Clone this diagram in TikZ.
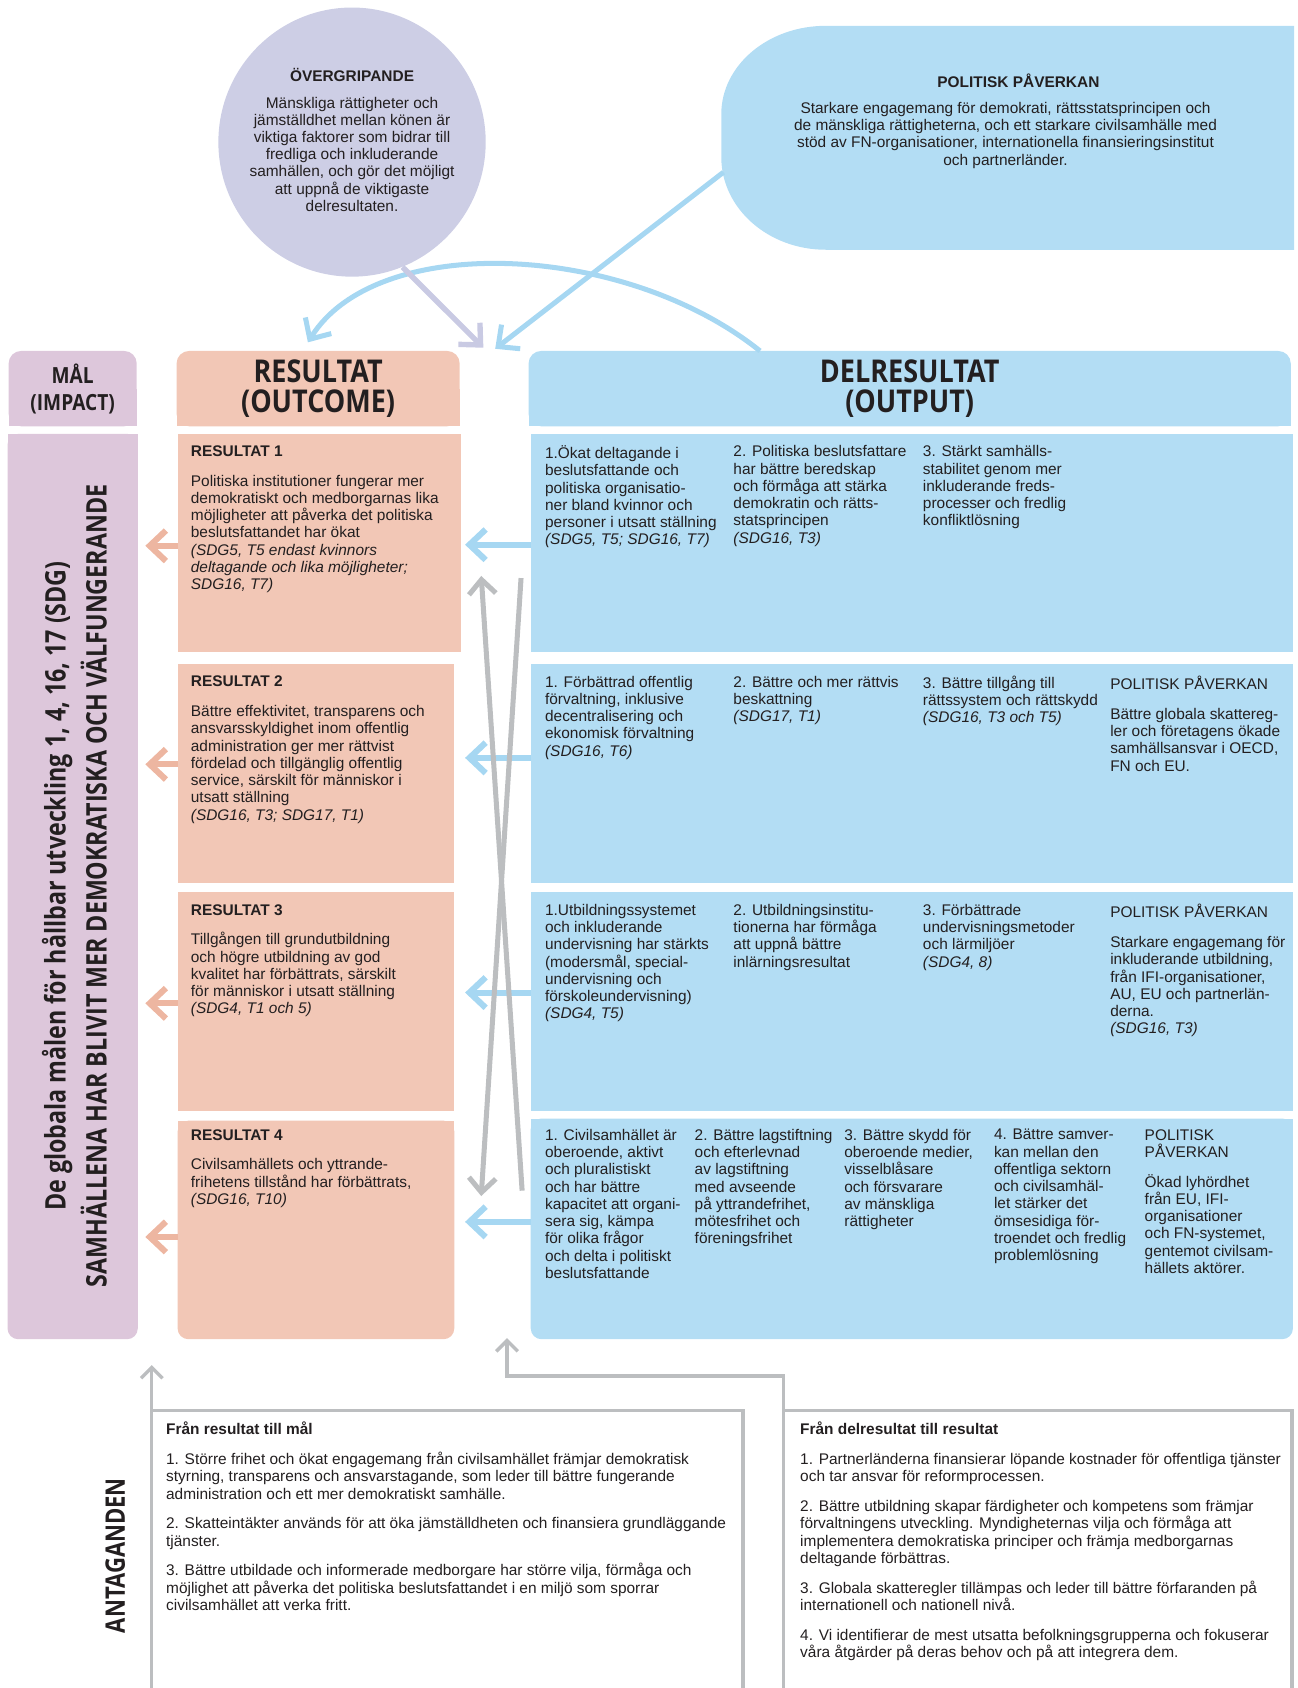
\documentclass[tikz,border=0pt]{standalone}
\usepackage{fontspec}
\setmainfont{Liberation Sans}
\newfontfamily\headfont{Open Sans}[FakeStretch=0.86]
\newfontfamily\sidefont{Open Sans}[FakeStretch=0.82]
\usetikzlibrary{arrows.meta,positioning,fit,shapes.geometric}
\definecolor{malpink}{HTML}{DDC7DB}
\definecolor{salmon}{HTML}{F2C7B6}
\definecolor{skyblue}{HTML}{B3DDF4}
\definecolor{lavender}{HTML}{CDCEE5}
\definecolor{arrblue}{HTML}{A6D7F2}
\definecolor{arrsalmon}{HTML}{EDB6A1}
\definecolor{arrlav}{HTML}{C9CAE3}
\definecolor{greyline}{HTML}{BCBEC0}
\definecolor{ink}{HTML}{231F20}
\tikzset{
  boxfill/.style={inner sep=0pt, outer sep=0pt},
  malbox/.style={boxfill, fill=malpink},
  resbox/.style={boxfill, fill=salmon},
  delbox/.style={boxfill, fill=skyblue},
  txt/.style={anchor=north west, inner sep=0pt, align=left, text=ink,
    font=\fontsize{8.6}{9.6}\selectfont, execute at begin node=\rule{0pt}{9.4pt}},
  ctxt/.style={txt, anchor=north, align=center},
  head/.style={inner sep=0pt, align=center, text=ink,
    font=\headfont\bfseries\fontsize{17.5}{17}\selectfont},
  barb/.style={-{Straight Barb[length=9pt, width=17pt]}, line width=3.4pt},
  bluearr/.style={barb, draw=arrblue},
  salarr/.style={barb, draw=arrsalmon},
  lavarr/.style={barb, draw=arrlav, line width=3pt},
  greyarr/.style={-{Straight Barb[length=8pt, width=15pt]}, line width=2.8pt, draw=greyline},
  greysmall/.style={-{Straight Barb[length=6pt, width=12pt]}, line width=1.9pt, draw=greyline},
  frame/.style={line width=1.9pt, draw=greyline}
}

\begin{document}
\begin{tikzpicture}[x=0.6pt, y=-0.6pt]
\useasboundingbox (0,0) rectangle (1205,1568);

% cross-cutting and policy influence on top
\node[ellipse, fill=lavender, minimum width=149pt, minimum height=150pt, inner sep=0pt] (ovg) at (327,132) {};
\node[ctxt] (ovgtitle) at (327,59.7) {\textbf{ÖVERGRIPANDE}};
\node[ctxt] (ovgtext) at (327,89.7) {Mänskliga rättigheter och\\jämställdhet mellan könen är\\viktiga faktorer som bidrar till\\fredliga och inkluderande\\samhällen, och gör det möjligt\\att uppnå de viktigaste\\delresultaten.};

\fill[skyblue] (1202,24) -- (767,24) .. controls (713.5,24) and (670,60.7) .. (670,106)
  -- (670,146) .. controls (670,193.5) and (713.5,232) .. (767,232) -- (1202,232) -- cycle;
\coordinate (polw) at (672,160);
\node[ctxt] (poltitle) at (946,65.7) {\textbf{POLITISK PÅVERKAN}};
\node[ctxt] (poltext) at (934,94.7) {Starkare engagemang för demokrati, rättsstatsprincipen och\\de mänskliga rättigheterna, och ett starkare civilsamhälle med\\stöd av FN-organisationer, internationella finansieringsinstitut\\och partnerländer.};

% column heads
\node[malbox, rounded corners=7pt, fit={(8,326) (127,396)}] (malhead) {};
\fill[malpink] (malhead.west) rectangle (malhead.south east);
\node[resbox, rounded corners=7pt, fit={(164,326) (427,396)}] (reshead) {};
\fill[salmon] (reshead.west) rectangle (reshead.south east);
\node[delbox, rounded corners=7pt, fit={(491,326) (1199,396)}] (delhead) {};
\fill[skyblue] (delhead.west) rectangle (delhead.south east);
\node[head, font=\headfont\bfseries\fontsize{12.4}{15}\selectfont] (maltitle) at (malhead) {MÅL\\(IMPACT)};
\node[head] (restitle) at (reshead) {RESULTAT\\(OUTCOME)};
\node[head] (deltitle) at (delhead) {DELRESULTAT\\(OUTPUT)};

% impact column
\node[malbox, rounded corners=6pt, fit={(7,403) (128,1244)}] (malcol) {};
\fill[malpink] (malcol.north west) rectangle (malcol.east);
\node[rotate=90, text=ink, font=\sidefont\bfseries\fontsize{15.8}{15.8}\selectfont] (sdg) at (53,823) {De globala målen för hållbar utveckling 1, 4, 16, 17 (SDG)};
\node[rotate=90, text=ink, font=\sidefont\bfseries\fontsize{15.8}{15.8}\selectfont] (samh) at (87,823) {SAMHÄLLENA HAR BLIVIT MER DEMOKRATISKA OCH VÄLFUNGERANDE};

% outcome boxes
\node[resbox, fit={(165,403) (428,606)}] (r1) {};
\node[resbox, fit={(165,617) (422,820)}] (r2) {};
\node[resbox, fit={(165,829) (422,1032)}] (r3) {};
\node[resbox, rounded corners=6pt, fit={(165,1041) (422,1244)}] (r4) {};
\fill[salmon] (r4.north west) rectangle (r4.east);

% output boxes
\node[delbox, fit={(493,403) (1201,606)}] (d1) {};
\node[delbox, fit={(493,617) (1201,820)}] (d2) {};
\node[delbox, fit={(493,829) (1201,1032)}] (d3) {};
\node[delbox, rounded corners=6pt, fit={(493,1039) (1201,1244)}] (d4) {};
\fill[skyblue] (d4.north west) rectangle (d4.east);

% outcome texts
\node[txt] (r1text) at (177,413.7) {\textbf{RESULTAT 1}\\[7pt]Politiska institutioner fungerar mer\\demokratiskt och medborgarnas lika\\möjligheter att påverka det politiska\\beslutsfattandet har ökat\\\textit{(SDG5, T5 endast kvinnors}\\\textit{deltagande och lika möjligheter;}\\\textit{SDG16, T7)}};
\node[txt] (r2text) at (177,627.7) {\textbf{RESULTAT 2}\\[7pt]Bättre effektivitet, transparens och\\ansvarsskyldighet inom offentlig\\administration ger mer rättvist\\fördelad och tillgänglig offentlig\\service, särskilt för människor i\\utsatt ställning\\\textit{(SDG16, T3; SDG17, T1)}};
\node[txt] (r3text) at (177,839.7) {\textbf{RESULTAT 3}\\[7pt]Tillgången till grundutbildning\\och högre utbildning av god\\kvalitet har förbättrats, särskilt\\för människor i utsatt ställning\\\textit{(SDG4, T1 och 5)}};
\node[txt] (r4text) at (177,1048.7) {\textbf{RESULTAT 4}\\[7pt]Civilsamhällets och yttrande-\\frihetens tillstånd har förbättrats,\\\textit{(SDG16, T10)}};

% output texts, row 1
\node[txt] (d1a) at (506,413.7) {1.Ökat deltagande i\\beslutsfattande och\\politiska organisatio-\\ner bland kvinnor och\\personer i utsatt ställning\\\textit{(SDG5, T5; SDG16, T7)}};
\node[txt] (d1b) at (681,413.7) {2. Politiska beslutsfattare\\har bättre beredskap\\och förmåga att stärka\\demokratin och rätts-\\statsprincipen\\\textit{(SDG16, T3)}};
\node[txt] (d1c) at (857,413.7) {3. Stärkt samhälls-\\stabilitet genom mer\\inkluderande freds-\\processer och fredlig\\konfliktlösning};
% row 2
\node[txt] (d2a) at (506,627.7) {1. Förbättrad offentlig\\förvaltning, inklusive\\decentralisering och\\ekonomisk förvaltning\\\textit{(SDG16, T6)}};
\node[txt] (d2b) at (681,627.7) {2. Bättre och mer rättvis\\beskattning\\\textit{(SDG17, T1)}};
\node[txt] (d2c) at (857,627.7) {3. Bättre tillgång till\\rättssystem och rättskydd\\\textit{(SDG16, T3 och T5)}};
\node[txt] (d2d) at (1031,627.7) {POLITISK PÅVERKAN\\[7pt]Bättre globala skattereg-\\ler och företagens ökade\\samhällsansvar i OECD,\\FN och EU.};
% row 3
\node[txt] (d3a) at (506,839.7) {1.Utbildningssystemet\\och inkluderande\\undervisning har stärkts\\(modersmål, special-\\undervisning  och\\förskoleundervisning)\\\textit{(SDG4, T5)}};
\node[txt] (d3b) at (681,839.7) {2. Utbildningsinstitu-\\tionerna har förmåga\\att uppnå bättre\\inlärningsresultat};
\node[txt] (d3c) at (857,839.7) {3. Förbättrade\\undervisningsmetoder\\och lärmiljöer\\\textit{(SDG4, 8)}};
\node[txt] (d3d) at (1031,839.7) {POLITISK PÅVERKAN\\[7pt]Starkare engagemang för\\inkluderande utbildning,\\från IFI-organisationer,\\AU, EU och partnerlän-\\derna.\\\textit{(SDG16, T3)}};
% row 4
\node[txt] (d4a) at (506,1048.7) {1. Civilsamhället är\\oberoende, aktivt\\och pluralistiskt\\och har bättre\\kapacitet att organi-\\sera sig, kämpa\\för olika frågor\\och delta i politiskt\\beslutsfattande};
\node[txt] (d4b) at (645,1048.7) {2. Bättre lagstiftning\\och efterlevnad\\av lagstiftning\\med avseende\\på yttrandefrihet,\\mötesfrihet och\\föreningsfrihet};
\node[txt] (d4c) at (784,1048.7) {3. Bättre skydd för\\oberoende medier,\\visselblåsare\\och försvarare\\av mänskliga\\rättigheter};
\node[txt] (d4d) at (923,1048.7) {4. Bättre samver-\\kan mellan den\\offentliga sektorn\\och civilsamhäl-\\let stärker det\\ömsesidiga för-\\troendet och fredlig\\problemlösning};
\node[txt] (d4e) at (1063,1048.7) {POLITISK\\PÅVERKAN\\[7pt]Ökad lyhördhet\\från EU, IFI-\\organisationer\\och FN-systemet,\\gentemot civilsam-\\hällets aktörer.};

% arrows between the columns
\foreach \n/\sy/\by in {1/507/506, 2/710/704, 3/932/922, 4/1149/1135} {
  \coordinate (s\n) at (135,\sy);
  \coordinate (b\n) at (432,\by);
  \draw[salarr] (r\n.west |- s\n) -- (s\n);
  \draw[bluearr] (d\n.west |- b\n) -- (b\n);
}
\coordinate (gA0) at (485,1106);
\coordinate (gA1) at (447,535);
\coordinate (gB0) at (484,537);
\coordinate (gB1) at (447,1111);
\draw[greyarr] (gA0) -- (gA1);
\draw[greyarr] (gB0) -- (gB1);

% arrows on top
\coordinate (arcR) at (706,326);
\coordinate (arcL) at (286,318);
\coordinate (lavtip) at (449,323);
\coordinate (bluetip) at (460,324);
\draw[bluearr, line width=2.8pt] (arcR) .. controls (580,225) and (350,215) .. (arcL);
\draw[lavarr] (ovg.-68) -- (lavtip);
\draw[bluearr, line width=2.8pt] (polw) -- (bluetip);

% assumptions
\draw[frame] (141,1568) -- (141,1310) -- (690,1310) -- (690,1568);
\draw[frame] (728,1568) -- (728,1310) -- (1200,1310) -- (1200,1568);
\coordinate (lcorner) at (141,1310);
\coordinate (ltip) at (141,1268);
\coordinate (rcorner) at (728,1310);
\coordinate (rbend) at (728,1278);
\coordinate (rtip) at (471,1243);
\draw[greysmall] (lcorner) -- (ltip);
\draw[greysmall] (rcorner) -- (rbend) -| (rtip);
\node[rotate=90, text=ink, font=\sidefont\bfseries\fontsize{15}{15}\selectfont] (antag) at (107,1445) {ANTAGANDEN};
\node[txt] (lefttext) at (154,1320.7) {\textbf{Från resultat till mål}\\[7pt]1. Större frihet och ökat engagemang från civilsamhället främjar demokratisk\\styrning, transparens och ansvarstagande, som leder till bättre fungerande\\administration och ett mer demokratiskt samhälle.\\[7pt]2. Skatteintäkter används för att öka jämställdheten och finansiera grundläggande\\tjänster.\\[7pt]3. Bättre utbildade och informerade medborgare har större vilja, förmåga och\\möjlighet att påverka det politiska beslutsfattandet i en miljö som sporrar\\civilsamhället att verka fritt.};
\node[txt] (righttext) at (743,1320.7) {\textbf{Från delresultat till resultat}\\[7pt]1. Partnerländerna finansierar löpande kostnader för offentliga tjänster\\och tar ansvar för reformprocessen.\\[7pt]2. Bättre utbildning skapar färdigheter och kompetens som främjar\\förvaltningens utveckling. Myndigheternas vilja och förmåga att\\implementera demokratiska principer och främja medborgarnas\\deltagande förbättras.\\[7pt]3. Globala skatteregler tillämpas och leder till bättre förfaranden på\\internationell och nationell nivå.\\[7pt]4. Vi identifierar de mest utsatta befolkningsgrupperna och fokuserar\\våra åtgärder på deras behov och på att integrera dem.};
\end{tikzpicture}
\end{document}
